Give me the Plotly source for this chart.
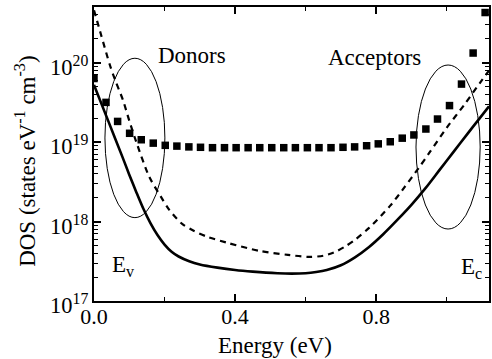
import plotly.graph_objects as go

# ---------------- data ----------------
# total DOS (squares)
sq_energy = [0.0, 0.034, 0.067, 0.101, 0.134, 0.168, 0.202, 0.235, 0.269, 0.302,
             0.336, 0.370, 0.403, 0.437, 0.470, 0.504, 0.538, 0.571, 0.605, 0.638,
             0.672, 0.706, 0.739, 0.773, 0.806, 0.840, 0.874, 0.907, 0.941, 0.974,
             1.008, 1.042, 1.075, 1.109]
sq_dos = [6.31e19, 3.16e19, 1.82e19, 1.29e19, 1.07e19, 9.7e18, 9.1e18, 8.9e18, 8.7e18, 8.6e18,
          8.5e18, 8.5e18, 8.5e18, 8.5e18, 8.5e18, 8.5e18, 8.5e18, 8.5e18, 8.5e18, 8.5e18,
          8.5e18, 8.6e18, 8.7e18, 9.0e18, 9.5e18, 1.01e19, 1.12e19, 1.23e19, 1.46e19, 1.95e19,
          2.88e19, 5.37e19, 1.32e20, 4.27e20]

# solid curve
solid_energy = [0.0, 0.04, 0.08, 0.10, 0.12, 0.14, 0.16, 0.18, 0.20, 0.22, 0.24, 0.27, 0.30,
                0.35, 0.40, 0.45, 0.52, 0.56, 0.60, 0.63, 0.66, 0.70, 0.74, 0.78, 0.82, 0.86,
                0.90, 0.94, 0.98, 1.02, 1.06, 1.09, 1.12]
solid_log = [19.72, 19.27, 18.82, 18.59, 18.37, 18.16, 17.98, 17.83, 17.71, 17.62, 17.56, 17.50, 17.46,
             17.42, 17.39, 17.37, 17.35, 17.345, 17.35, 17.365, 17.39, 17.45, 17.55, 17.68, 17.84, 18.02,
             18.21, 18.42, 18.65, 18.88, 19.11, 19.28, 19.45]
solid_dos = [10 ** v for v in solid_log]

# dashed curve
dash_energy = [0.0, 0.02, 0.045, 0.06, 0.082, 0.10, 0.12, 0.157, 0.19, 0.213, 0.25, 0.28, 0.32,
               0.38, 0.47, 0.55, 0.61, 0.65, 0.68, 0.71, 0.74, 0.78, 0.84, 0.88, 0.92, 0.95,
               1.00, 1.05, 1.10, 1.12]
dash_log = [20.66, 20.35, 19.97, 19.78, 19.53, 19.27, 19.00, 18.56, 18.31, 18.15, 17.97, 17.89, 17.81,
            17.73, 17.63, 17.58, 17.555, 17.57, 17.61, 17.68, 17.77, 17.92, 18.20, 18.43, 18.67, 18.86,
            19.18, 19.47, 19.78, 19.90]
dash_dos = [10 ** v for v in dash_log]

x_ticks = [0.0, 0.4, 0.8]
x_tick_labels = ["0.0", "0.4", "0.8"]
y_tick_exponents = [17, 18, 19, 20]
y_tick_labels = ["10<sup>17</sup>", "10<sup>18</sup>", "10<sup>19</sup>", "10<sup>20</sup>"]

FONT = "Liberation Serif"

fig = go.Figure()
fig.add_trace(go.Scatter(x=solid_energy, y=solid_dos, mode="lines",
                         line=dict(color="black", width=2.6, shape="spline", smoothing=0.8),
                         showlegend=False, hoverinfo="skip"))
fig.add_trace(go.Scatter(x=dash_energy, y=dash_dos, mode="lines",
                         line=dict(color="black", width=2.2, dash="6px,5px", shape="spline", smoothing=0.8),
                         showlegend=False, hoverinfo="skip"))
fig.add_trace(go.Scatter(x=sq_energy, y=sq_dos, mode="markers",
                         marker=dict(symbol="square", size=7.5, color="black", line=dict(width=0)),
                         showlegend=False, hoverinfo="skip", cliponaxis=True))

# ellipses
fig.add_shape(type="circle", xref="x", yref="y", x0=0.031, x1=0.201, y0=1.12e18, y1=1.135e20,
              line=dict(color="black", width=1))
fig.add_shape(type="circle", xref="x", yref="y", x0=0.913, x1=1.095, y0=8.05e17, y1=9.33e19,
              line=dict(color="black", width=1))

ann_font = dict(family=FONT, size=23, color="black")
fig.add_annotation(text="Donors", xref="paper", yref="paper", x=0.248, y=0.835,
                   showarrow=False, font=ann_font, xanchor="center", yanchor="middle")
fig.add_annotation(text="Acceptors", xref="paper", yref="paper", x=0.7103, y=0.828,
                   showarrow=False, font=ann_font, xanchor="center", yanchor="middle")
fig.add_annotation(text="E<sub>v</sub>", xref="paper", yref="paper", x=0.040, y=0.119,
                   showarrow=False, font=ann_font, xanchor="left", yanchor="middle")
fig.add_annotation(text="E<sub>c</sub>", xref="paper", yref="paper", x=0.924, y=0.112,
                   showarrow=False, font=ann_font, xanchor="left", yanchor="middle")
fig.add_annotation(text="Energy (eV)", xref="paper", yref="paper", x=(276 - 94) / 397, y=(301 - 345) / 294,
                   showarrow=False, font=ann_font, xanchor="center", yanchor="middle")
fig.add_annotation(text="DOS (states eV<sup>-1</sup> cm<sup>-3</sup>)", xref="paper", yref="paper",
                   x=(25 - 94) / 397, y=(301 - 161.5) / 294, textangle=-90,
                   showarrow=False, font=ann_font, xanchor="center", yanchor="middle")

# y tick labels (log decades), placed at the axis decades
for ev, lab in zip(y_tick_exponents, y_tick_labels):
    fig.add_annotation(text=lab, xref="paper", yref="y", x=(90 - 94) / 397, y=ev,
                       xanchor="right", yanchor="middle", yshift=-3, showarrow=False,
                       font=dict(family=FONT, size=22.5, color="black"))

axis_common = dict(showgrid=False, zeroline=False, showline=True, linecolor="black", linewidth=1.5,
                   ticks="inside", tickcolor="black", tickwidth=1.5, ticklen=7, mirror="ticks",
                   tickfont=dict(family=FONT, size=22, color="black"))

fig.update_xaxes(range=[0, 1.12], tickmode="array", tickvals=x_ticks, ticktext=x_tick_labels,
                 minor=dict(ticks="inside", ticklen=4, tickwidth=1.2, tickcolor="black", dtick=0.2, tick0=0),
                 ticklabelstandoff=-5, **axis_common)
fig.update_yaxes(type="log", range=[17, 20.7], dtick=1, showticklabels=False,
                 minor=dict(ticks="inside", ticklen=4, tickwidth=1, tickcolor="black", dtick="D1"),
                 **axis_common)

fig.update_layout(width=492, height=359, margin=dict(l=94, r=1, t=7, b=58),
                  paper_bgcolor="white", plot_bgcolor="white",
                  font=dict(family=FONT, size=22, color="black"))

fig.write_html("out.html")
